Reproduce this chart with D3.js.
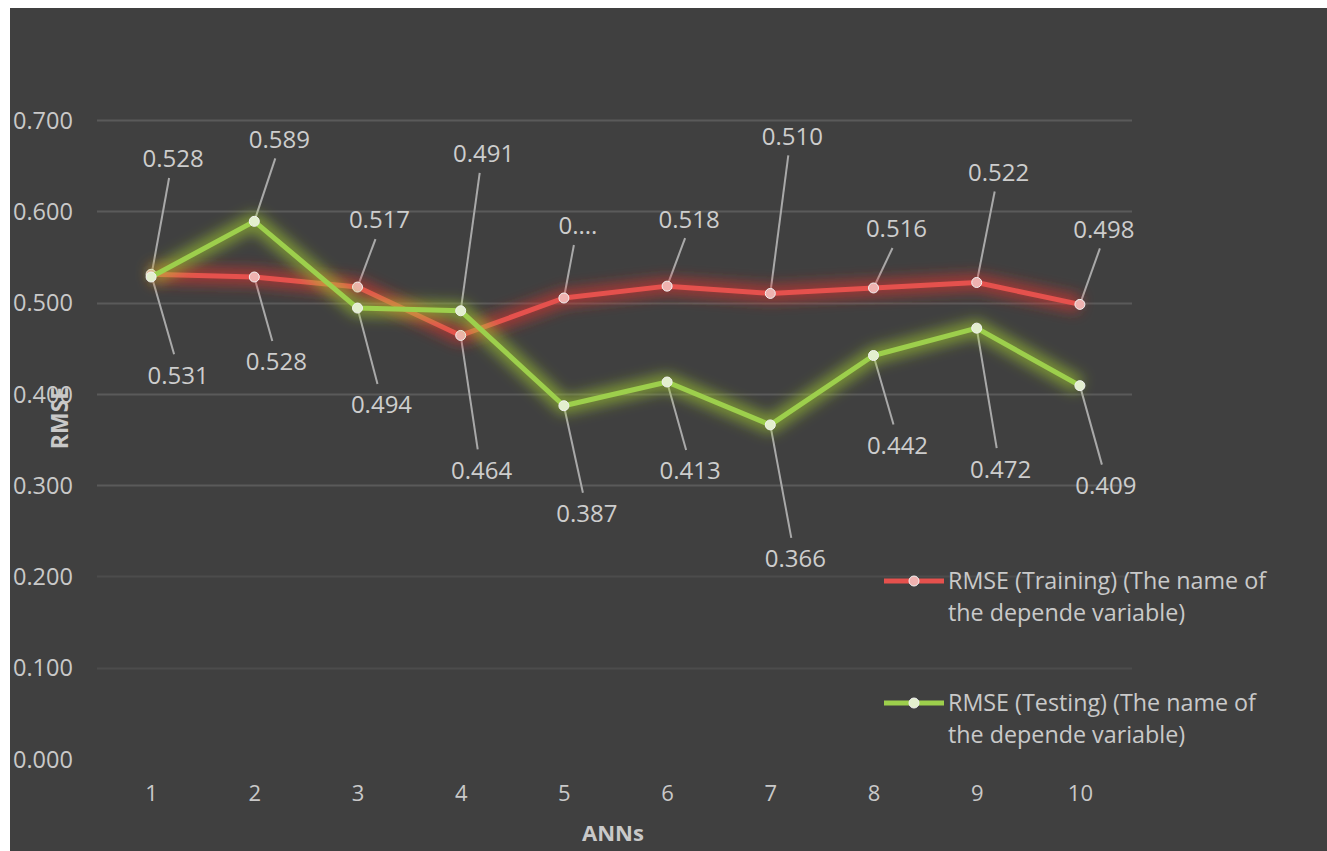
<!DOCTYPE html>
<html>
<head>
<meta charset="utf-8">
<script src="https://cdn.jsdelivr.net/npm/d3@7"></script>
<style>
  html, body { margin: 0; padding: 0; background: #ffffff; }
  svg { display: block; }
  text { font-family: "Open Sans", Lato, "Liberation Sans", sans-serif; }
</style>
</head>
<body>
<svg id="chart" width="1327" height="851"></svg>
<script>
// ANN index along the x axis
const categories = ["1", "2", "3", "4", "5", "6", "7", "8", "9", "10"];
// RMSE per network
const trainingValues = [0.531, 0.528, 0.517, 0.464, 0.505, 0.518, 0.510, 0.516, 0.522, 0.498];
const testingValues  = [0.528, 0.589, 0.494, 0.491, 0.387, 0.413, 0.366, 0.442, 0.472, 0.409];
// text shown in each data label (label 5 of the training series is truncated)
const trainingLabels = ["0.531", "0.528", "0.517", "0.464", "0....", "0.518", "0.510", "0.516", "0.522", "0.498"];
const testingLabels  = ["0.528", "0.589", "0.494", "0.491", "0.387", "0.413", "0.366", "0.442", "0.472", "0.409"];
const yTicks = [0, 0.1, 0.2, 0.3, 0.4, 0.5, 0.6, 0.7];
const seriesNames = ["RMSE (Training) (The name of the depende variable)",
                     "RMSE (Testing) (The name of the depende variable)"];

// label placement: offset of each data label from its point (px)
const trainingLabelOffsets = [[27,101],[22,85],[22,-67],[21,135],[14,-72],[22,-67],[22,-157],[23,-59],[22,-110],[24,-75]];
const testingLabelOffsets  = [[22,-118],[25,-82],[24,97],[23,-157],[23,108],[23,89],[25,134],[24,90],[24,141],[26,100]];

const svg = d3.select("#chart");
const W = 1327, H = 851;

// chart area
svg.append("rect").attr("x", 10).attr("y", 8).attr("width", W - 10).attr("height", H - 8)
   .attr("fill", "#404040");

const x = d3.scalePoint().domain(categories).range([99.5, 1131.5]).padding(0.5);
const y = d3.scaleLinear().domain([0, 0.7]).range([759, 120]);

const defs = svg.append("defs");
function glow(id, std) {
  const f = defs.append("filter").attr("id", id)
    .attr("x", "-20%").attr("y", "-60%").attr("width", "140%").attr("height", "220%");
  f.append("feGaussianBlur").attr("in", "SourceGraphic").attr("stdDeviation", std);
}
glow("glowRed", 7);
glow("glowGreen", 7);

// gridlines
const grid = svg.append("g");
grid.selectAll("line").data(yTicks.filter(t => t > 0)).join("line")
  .attr("x1", 97).attr("x2", 1132)
  .attr("y1", d => Math.round(y(d)) + 0.5).attr("y2", d => Math.round(y(d)) + 0.5)
  .attr("stroke", d => d >= 0.3 ? "#5a5a5a" : "#4c4c4c").attr("stroke-width", 2);

// y axis tick labels
const yAxis = d3.axisLeft(y).tickValues(yTicks).tickFormat(d3.format(".3f")).tickSize(0);
const gy = svg.append("g").attr("transform", "translate(13,0)").call(yAxis);
gy.select(".domain").remove();
gy.selectAll("text").attr("text-anchor", "start").attr("x", 0).attr("dy", "0.35em")
  .attr("fill", "#c9c9c9").attr("font-size", 23.5);

// x axis tick labels
const xAxis = d3.axisBottom(x).tickSize(0);
const gx = svg.append("g").attr("transform", "translate(0,793)").call(xAxis);
gx.select(".domain").remove();
gx.selectAll("text").attr("y", 0).attr("dy", "0.35em")
  .attr("fill", "#c9c9c9").attr("font-size", 22);

// axis titles
svg.append("text").attr("x", 613).attr("y", 833).attr("dy", "0.35em")
  .attr("text-anchor", "middle").attr("font-weight", "bold").attr("font-size", 22)
  .attr("fill", "#c9c9c9").text("ANNs");
svg.append("text").attr("transform", "translate(60,418) rotate(-90)").attr("dy", "0.35em")
  .attr("text-anchor", "middle").attr("font-weight", "bold").attr("font-size", 23)
  .attr("fill", "#c9c9c9").text("RMSE");

const series = [
  { values: trainingValues, labels: trainingLabels, offsets: trainingLabelOffsets,
    color: "#e5514d", glowColor: "#e8302c", marker: "#efb2b0", filter: "glowRed" },
  { values: testingValues, labels: testingLabels, offsets: testingLabelOffsets,
    color: "#9dcf4c", glowColor: "#a6d22e", marker: "#e3efce", filter: "glowGreen" }
];

const line = d3.line().x((d, i) => x(categories[i])).y(d => y(d));

// leader lines
const leaders = svg.append("g");
series.forEach(s => {
  s.values.forEach((v, i) => {
    const px = x(categories[i]), py = y(v);
    const [dx, dy] = s.offsets[i];
    const lx = px + dx - 4, ly = py + dy + (dy < 0 ? 19 : -21);
    leaders.append("line")
      .attr("x1", px).attr("y1", py).attr("x2", lx).attr("y2", ly)
      .attr("stroke", "#a9a9a9").attr("stroke-width", 2);
  });
});

// series lines with glow, then markers
series.forEach(s => {
  const g = svg.append("g");
  g.append("path").datum(s.values).attr("d", line)
    .attr("fill", "none").attr("stroke", s.glowColor).attr("stroke-width", 16)
    .attr("stroke-opacity", 0.6).attr("stroke-linejoin", "round")
    .attr("filter", `url(#${s.filter})`);
  g.append("path").datum(s.values).attr("d", line)
    .attr("fill", "none").attr("stroke", s.color).attr("stroke-width", 5)
    .attr("stroke-linejoin", "round");
  g.selectAll("circle").data(s.values).join("circle")
    .attr("cx", (d, i) => x(categories[i])).attr("cy", d => y(d)).attr("r", 5)
    .attr("fill", s.marker).attr("stroke", "#f2f2f2").attr("stroke-width", 1);
});

// data labels
series.forEach(s => {
  svg.append("g").selectAll("text").data(s.values).join("text")
    .attr("x", (d, i) => x(categories[i]) + s.offsets[i][0])
    .attr("y", (d, i) => y(d) + s.offsets[i][1])
    .attr("dy", "0.35em").attr("text-anchor", "middle")
    .attr("font-size", 24).attr("fill", "#cdcdcd")
    .text((d, i) => s.labels[i]);
});

// legend
const legend = svg.append("g");
const legendRows = [
  { y: 581, s: series[0], name: seriesNames[0] },
  { y: 703, s: series[1], name: seriesNames[1] }
];
legendRows.forEach(r => {
  legend.append("line").attr("x1", 884).attr("x2", 944).attr("y1", r.y).attr("y2", r.y)
    .attr("stroke", r.s.color).attr("stroke-width", 5);
  legend.append("circle").attr("cx", 914).attr("cy", r.y).attr("r", 5)
    .attr("fill", r.s.marker).attr("stroke", "#f2f2f2").attr("stroke-width", 1);
  const words = r.name.split(" ");
  const first = words.slice(0, 5).join(" "), second = words.slice(5).join(" ");
  const t = legend.append("text").attr("x", 948).attr("y", r.y).attr("dy", "0.35em")
    .attr("font-size", 23.3).attr("fill", "#c9c9c9");
  t.append("tspan").attr("x", 948).text(first);
  t.append("tspan").attr("x", 948).attr("dy", 32).text(second);
});
</script>
</body>
</html>
